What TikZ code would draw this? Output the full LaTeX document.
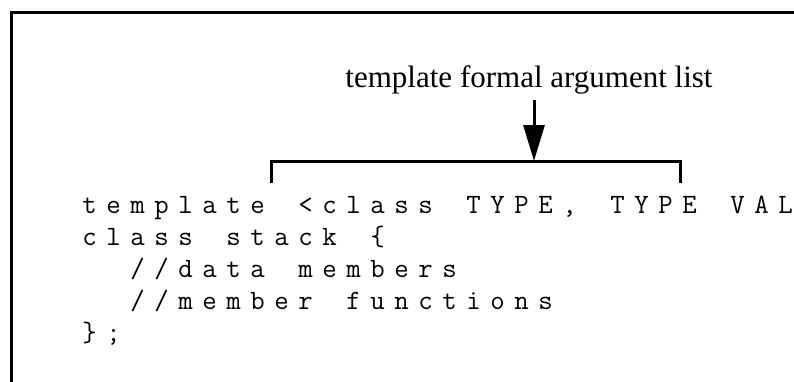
\documentclass[tikz,border=0pt]{standalone}
\usepackage{fontspec}
\setmainfont{Liberation Serif}
\usetikzlibrary{arrows.meta}
% fixed pitch for the listing
\ExplSyntaxOn
\NewDocumentCommand\codeline{m}{\tl_map_inline:nn{#1}{\makebox[12pt][l]{##1}}}
\ExplSyntaxOff

\begin{document}
\begin{tikzpicture}[x=0.5pt, y=-0.5pt,
    code/.style={anchor=base west, inner sep=0pt, font=\ttfamily\fontsize{14}{16}\selectfont},
    lbl/.style={anchor=base, inner sep=3pt, font=\fontsize{15.5}{18}\selectfont},
    arr/.style={-{Triangle[length=18pt, width=10.5pt]}, line width=1.5pt},
    brk/.style={line width=1.5pt}
]
\useasboundingbox (0,0) rectangle (794,381);
\clip (0,0) rectangle (794,381);
\draw[line width=1.5pt] (11.5,12) rectangle (840,420);

\node[lbl] (argl) at (529,87) {template formal argument list};

\node[code] (l1) at (82,213) {\codeline{template~<class~TYPE,~TYPE~VAL}};
\node[code] (l2) at (82,245) {\codeline{class~stack~\{}};
\node[code] (l3) at (82,277) {\codeline{~~//data~members}};
\node[code] (l4) at (82,309) {\codeline{~~//member~functions}};
\node[code] (l5) at (82,341) {\codeline{\};}};

\coordinate (bl) at (271,183);
\coordinate (br) at (680,183);
\coordinate (bmid) at (534,161);
\draw[brk] (bl) -- (bl |- bmid) -- (br |- bmid) -- (br);
\draw[arr] (argl.south -| bmid) -- (bmid);
\end{tikzpicture}
\end{document}
